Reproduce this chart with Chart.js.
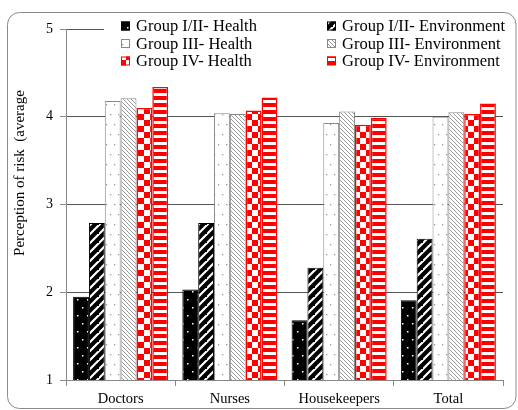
<!DOCTYPE html>
<html>
<head>
<meta charset="utf-8">
<script src="https://cdn.jsdelivr.net/npm/chart.js@4"></script>
<style>
    body { margin: 0; background: #fff; }
    #wrap { width: 518px; height: 410px; }
</style>
</head>
<body>
<div id="wrap"><canvas id="myChart" width="518" height="410"></canvas></div>
<script>
// values
var categories = ["Doctors", "Nurses", "Housekeepers", "Total"];
var g12Health = [1.95, 2.03, 1.68, 1.91];
var g12Env = [2.79, 2.79, 2.28, 2.61];
var g3Health = [4.18, 4.04, 3.93, 4.00];
var g3Env = [4.21, 4.03, 4.06, 4.05];
var g4Health = [4.10, 4.07, 3.91, 4.03];
var g4Env = [4.34, 4.22, 3.99, 4.15];
var seriesNames = ["Group I/II- Health", "Group I/II- Environment", "Group III- Health",
                   "Group III- Environment", "Group IV- Health", "Group IV- Environment"];
var yTitle = "Perception of risk  (average";

var SERIF = '"Liberation Serif", "Times New Roman", serif';

// small tile -> canvas pattern
function makePattern(w, h, draw) {
    var tile = document.createElement("canvas");
    tile.width = w;
    tile.height = h;
    var c = tile.getContext("2d");
    draw(c, w, h);
    return document.createElement("canvas").getContext("2d").createPattern(tile, "repeat");
}

var blackDots = makePattern(10, 16, function(c, w, h) {
    c.fillStyle = "#000"; c.fillRect(0, 0, w, h);
    c.fillStyle = "#fff";
    c.fillRect(2, 3, 1.5, 1.5);
    c.fillRect(7, 11, 1.5, 1.5);
});
var blackStripes = makePattern(9, 9, function(c, w, h) {
    c.fillStyle = "#000"; c.fillRect(0, 0, w, h);
    c.strokeStyle = "#fff"; c.lineWidth = 2.2;
    c.beginPath();
    c.moveTo(-2, h + 2); c.lineTo(w + 2, -2);
    c.moveTo(-2 - w, h + 2); c.lineTo(2, -2);
    c.moveTo(w - 2, 2 * h + 2); c.lineTo(2 * w + 2, h - 2);
    c.stroke();
});
var whiteDots = makePattern(8, 20, function(c, w, h) {
    c.fillStyle = "#fff"; c.fillRect(0, 0, w, h);
    c.fillStyle = "#999";
    c.fillRect(2, 4, 1.3, 1.3);
    c.fillRect(6, 14, 1.3, 1.3);
});
var grayHatch = makePattern(4, 4, function(c, w, h) {
    c.fillStyle = "#fff"; c.fillRect(0, 0, w, h);
    c.strokeStyle = "#999"; c.lineWidth = 1;
    c.beginPath();
    c.moveTo(-1, -1); c.lineTo(w + 1, h + 1);
    c.moveTo(-1, h - 1); c.lineTo(1, h + 1);
    c.moveTo(w - 1, -1); c.lineTo(w + 1, 1);
    c.stroke();
});
var redChecker = makePattern(12, 12, function(c, w, h) {
    c.fillStyle = "#fff"; c.fillRect(0, 0, w, h);
    c.fillStyle = "#ff0000";
    c.fillRect(0, 0, 6, 6);
    c.fillRect(6, 6, 6, 6);
});
var redStripes = makePattern(8, 7, function(c, w, h) {
    c.fillStyle = "#ff0000"; c.fillRect(0, 0, w, h);
    c.fillStyle = "#fff";
    c.fillRect(0, 2, w, 3);
});

var fills = [blackDots, blackStripes, whiteDots, grayHatch, redChecker, redStripes];
var borders = ["#000", "#000", "#888", "#888", "#ff0000", "#ff0000"];
var values = [g12Health, g12Env, g3Health, g3Env, g4Health, g4Env];

var datasets = values.map(function(v, i) {
    return {
        label: seriesNames[i],
        data: v,
        backgroundColor: fills[i],
        borderColor: borders[i],
        borderWidth: (i >= 4) ? 1.5 : 1,
        barPercentage: 1.0,
        categoryPercentage: 0.87
    };
});

// frame, legend and y title are drawn by hand
var decorPlugin = {
    id: "decor",
    beforeDraw: function(chart) {
        var ctx = chart.ctx;
        ctx.save();
        ctx.strokeStyle = "#8a8a8a";
        ctx.lineWidth = 1;
        ctx.beginPath();
        ctx.roundRect(7.5, 12.5, 508.5, 396, 12);
        ctx.stroke();
        ctx.restore();
    },
    afterDraw: function(chart) {
        var ctx = chart.ctx;
        ctx.save();
        // legend box covers the top grid line
        ctx.fillStyle = "#fff";
        ctx.fillRect(104, 14, 404, 58);
        ctx.font = "16.5px " + SERIF;
        ctx.textBaseline = "middle";
        ctx.textAlign = "left";
        var colX = [121, 327];
        var rowY = [26, 43.5, 61];
        chart.data.datasets.forEach(function(ds, i) {
            var x = colX[i % 2];
            var y = rowY[Math.floor(i / 2)];
            ctx.fillStyle = ds.backgroundColor;
            ctx.fillRect(x, y - 4.5, 9, 9);
            ctx.strokeStyle = ds.borderColor;
            ctx.lineWidth = 1;
            ctx.strokeRect(x + 0.5, y - 4, 8, 8);
            ctx.fillStyle = "#000";
            ctx.fillText(ds.label, x + 15, y + 1);
        });
        // y axis title
        ctx.translate(20, 173);
        ctx.rotate(-Math.PI / 2);
        ctx.textAlign = "center";
        ctx.font = "15px " + SERIF;
        ctx.fillText(yTitle, 0, 0);
        ctx.restore();
    }
};

var ctx = document.getElementById("myChart");
var myChart = new Chart(ctx, {
    type: "bar",
    data: { labels: categories, datasets: datasets },
    options: {
        responsive: false,
        animation: false,
        layout: { padding: { left: 0, top: 29, right: 15, bottom: 0 } },
        plugins: {
            legend: { display: false },
            tooltip: { enabled: false }
        },
        scales: {
            x: {
                grid: {
                    offset: true,
                    drawOnChartArea: false,
                    tickLength: 6,
                    tickColor: "#888"
                },
                border: { color: "#888" },
                ticks: { color: "#000", padding: 4, font: { family: SERIF, size: 14.5 } },
                afterFit: function(s) { s.height = 30; }
            },
            y: {
                min: 1,
                max: 5,
                ticks: { stepSize: 1, color: "#000", padding: 7, font: { family: SERIF, size: 14 } },
                grid: { color: "#555", tickColor: "#888", tickLength: 6 },
                border: { color: "#888" },
                afterFit: function(s) { s.width = 66; }
            }
        }
    },
    plugins: [decorPlugin]
});
</script>
</body>
</html>
